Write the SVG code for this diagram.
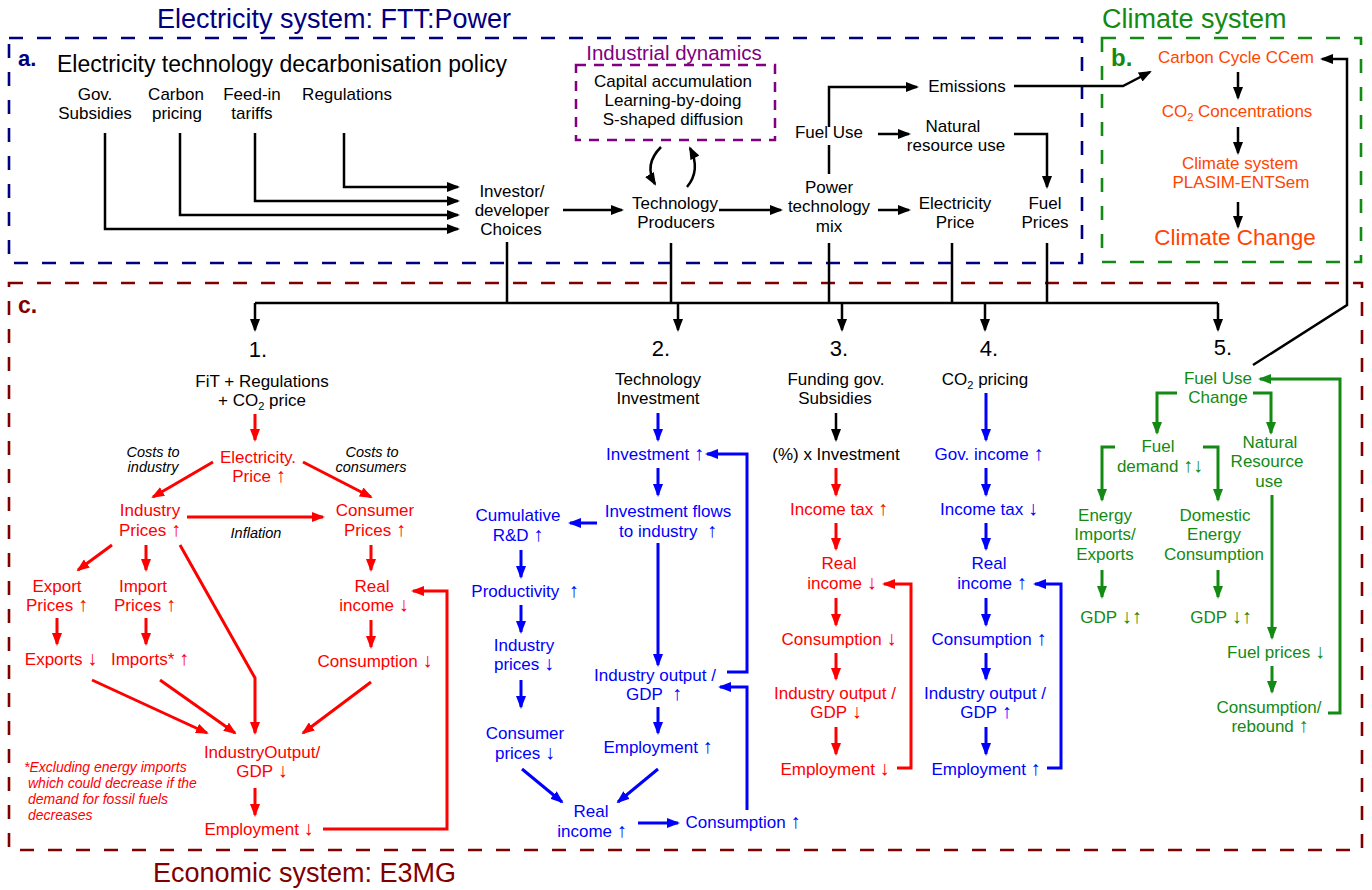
<svg xmlns="http://www.w3.org/2000/svg" width="1372" height="890" viewBox="0 0 1372 890">
<style>
text{font-family:"Liberation Sans",Arial,sans-serif;font-size:17px;text-anchor:middle}
.k{fill:#000}.r{fill:#f00}.b{fill:#00f}.g{fill:#138a13}.o{fill:#ff4500}.p{fill:#800080}
.s{text-anchor:start}.i{font-style:italic;font-size:14.5px}
.ar{font-size:20px}
.num{font-size:22px}
.box{fill:none;stroke-width:2.6;stroke-dasharray:14 14}
.lk{fill:none;stroke:#000;stroke-width:2.5;marker-end:url(#ak)}
.lk0{fill:none;stroke:#000;stroke-width:2.5}
.lr{fill:none;stroke:#f00;stroke-width:3;marker-end:url(#ar)}
.lb{fill:none;stroke:#00f;stroke-width:3;marker-end:url(#ab)}
.lg{fill:none;stroke:#138a13;stroke-width:3;marker-end:url(#ag)}
</style>
<defs>
<marker id="ak" viewBox="0 0 13 10" refX="11" refY="5" markerWidth="13" markerHeight="10" markerUnits="userSpaceOnUse" orient="auto"><path d="M0,0L13,5L0,10z" fill="#000"/></marker>
<marker id="ar" viewBox="0 0 13 10" refX="11" refY="5" markerWidth="13" markerHeight="10" markerUnits="userSpaceOnUse" orient="auto"><path d="M0,0L13,5L0,10z" fill="#f00"/></marker>
<marker id="ab" viewBox="0 0 13 10" refX="11" refY="5" markerWidth="13" markerHeight="10" markerUnits="userSpaceOnUse" orient="auto"><path d="M0,0L13,5L0,10z" fill="#00f"/></marker>
<marker id="ag" viewBox="0 0 13 10" refX="11" refY="5" markerWidth="13" markerHeight="10" markerUnits="userSpaceOnUse" orient="auto"><path d="M0,0L13,5L0,10z" fill="#138a13"/></marker>
</defs>
<rect width="1372" height="890" fill="#fff"/>

<g id="frames">
<rect x="9" y="38" width="1073" height="225" class="box" stroke="#000080"/>
<rect x="1102" y="38" width="259" height="224" class="box" stroke="#138a13"/>
<rect x="9" y="283" width="1353" height="567" class="box" stroke="#800000"/>
<rect x="576" y="65" width="199" height="75" fill="none" stroke="#800080" stroke-width="2.5" stroke-dasharray="10 8"/>
<text x="157" y="28" class="s" style="font-size:27px;fill:#000080">Electricity system: FTT:Power</text>
<text x="1102" y="28" class="s g" style="font-size:27px">Climate system</text>
<text x="153" y="882" class="s" style="font-size:27px;fill:#800000">Economic system: E3MG</text>
<text x="18" y="66" class="s" style="font-size:22px;font-weight:bold;fill:#000080">a.</text>
<text x="1111" y="66" class="s g" style="font-size:24px;font-weight:bold">b.</text>
<text x="18" y="313" class="s" style="font-size:23px;font-weight:bold;fill:#800000">c.</text>
<text x="57" y="72" class="s k" style="font-size:23px">Electricity technology decarbonisation policy</text>
</g>

<g id="connectors">
<path class="lk" d="M105,133V229H458"/>
<path class="lk" d="M180,133V215H458"/>
<path class="lk" d="M255,133V201H458"/>
<path class="lk" d="M344,133V187H458"/>
<path class="lk" d="M563,210H622"/>
<path class="lk" d="M719,210H781"/>
<path class="lk" d="M661,147C648,160 648,172 655,184"/>
<path class="lk" d="M687,187C697,175 697,162 690,148"/>
<path class="lk" d="M829,127V87H917"/>
<path class="lk0" d="M829,145V174"/>
<path class="lk" d="M878,134H909"/>
<path class="lk" d="M1014,134H1047V187"/>
<path class="lk" d="M878,210H909"/>
<path class="lk" d="M1014,86H1123L1150,72"/>
<path class="lk0" d="M507,242V303M671,243V303M829,243V303M952,243V303M1047,243V303M255,303H1218"/>
<path class="lk" d="M255,303V330"/>
<path class="lk" d="M678,303V330"/>
<path class="lk" d="M842,303V330"/>
<path class="lk" d="M985,303V330"/>
<path class="lk" d="M1218,303V330"/>
<path class="lk" d="M1238,72V98"/>
<path class="lk" d="M1238,127V153"/>
<path class="lk" d="M1238,202V227"/>
<path class="lk" d="M1253,365L1347,305V59H1322"/>

<path class="lr" d="M255,414V440"/>
<path class="lr" d="M213,462L153,497"/>
<path class="lr" d="M303,462L371,497"/>
<path class="lr" d="M187,517H323"/>
<path class="lr" d="M112,545L78,570"/>
<path class="lr" d="M146,545V570"/>
<path class="lr" d="M180,545L255,678V733"/>
<path class="lr" d="M371,545V570"/>
<path class="lr" d="M57,618V644"/>
<path class="lr" d="M146,618V644"/>
<path class="lr" d="M371,620V647"/>
<path class="lr" d="M92,680L207,733"/>
<path class="lr" d="M160,680L235,733"/>
<path class="lr" d="M371,682L303,733"/>
<path class="lr" d="M255,788V815"/>
<path class="lr" d="M323,829H447V591H413"/>

<path class="lb" d="M658,413V440"/>
<path class="lb" d="M658,468V495"/>
<path class="lb" d="M597,523H570"/>
<path class="lb" d="M521,550V577"/>
<path class="lb" d="M521,605V632"/>
<path class="lb" d="M521,680V707"/>
<path class="lb" d="M658,543V665"/>
<path class="lb" d="M727,672H747V454H707"/>
<path class="lb" d="M747,810V687H720"/>
<path class="lb" d="M658,707V733"/>
<path class="lb" d="M522,769L562,802"/>
<path class="lb" d="M658,769L618,802"/>
<path class="lb" d="M638,823H678"/>

<path class="lk" d="M836,413V440"/>
<path class="lr" d="M836,468V495"/>
<path class="lr" d="M836,523V549"/>
<path class="lr" d="M836,598V625"/>
<path class="lr" d="M836,653V679"/>
<path class="lr" d="M836,727V754"/>
<path class="lr" d="M897,768H911V584H884"/>

<path class="lb" d="M986,393V440"/>
<path class="lb" d="M986,468V495"/>
<path class="lb" d="M986,523V549"/>
<path class="lb" d="M986,598V625"/>
<path class="lb" d="M986,653V679"/>
<path class="lb" d="M986,727V754"/>
<path class="lb" d="M1047,768H1061V584H1035"/>

<path class="lg" d="M1328,713H1340V379H1260"/>
<path class="lg" d="M1177,393H1157V433"/>
<path class="lg" d="M1253,393H1271V433"/>
<path class="lg" d="M1115,447H1102V500"/>
<path class="lg" d="M1203,447H1218V500"/>
<path class="lg" d="M1102,570V597"/>
<path class="lg" d="M1218,570V597"/>
<path class="lg" d="M1272,495V638"/>
<path class="lg" d="M1272,666V692"/>
</g>

<g id="n-gov" class="k"><text x="95" y="100">Gov.</text><text x="95" y="119">Subsidies</text></g>
<g id="n-carbon"><text x="176" y="100">Carbon</text><text x="177" y="119">pricing</text></g>
<g id="n-feedin"><text x="252" y="100">Feed-in</text><text x="252" y="119">tariffs</text></g>
<g id="n-regs"><text x="347" y="100">Regulations</text></g>
<g id="n-investor"><text x="512" y="197">Investor/</text><text x="512" y="216">developer</text><text x="511" y="235">Choices</text></g>
<g id="n-industrial"><text x="674" y="60" class="p" style="font-size:20.5px">Industrial dynamics</text><text x="673" y="87">Capital accumulation</text><text x="673" y="106">Learning-by-doing</text><text x="673" y="125">S-shaped diffusion</text></g>
<g id="n-techprod"><text x="675" y="209">Technology</text><text x="676" y="228">Producers</text></g>
<g id="n-fueluse"><text x="829" y="138">Fuel Use</text></g>
<g id="n-emissions"><text x="967" y="92">Emissions</text></g>
<g id="n-natural"><text x="953" y="132">Natural</text><text x="956" y="151">resource use</text></g>
<g id="n-powermix"><text x="829" y="193">Power</text><text x="829" y="212">technology</text><text x="829" y="232">mix</text></g>
<g id="n-elecprice"><text x="955" y="209">Electricity</text><text x="955" y="228">Price</text></g>
<g id="n-fuelprices"><text x="1045" y="209">Fuel</text><text x="1045" y="228">Prices</text></g>

<g id="n-carboncycle"><text x="1236" y="63" class="o">Carbon Cycle CCem</text></g>
<g id="n-co2conc"><text x="1237" y="117" class="o">CO<tspan dy="4" style="font-size:11px">2</tspan><tspan dy="-4"> Concentrations</tspan></text></g>
<g id="n-climsys"><text x="1240" y="169" class="o">Climate system</text><text x="1241" y="188" class="o">PLASIM-ENTSem</text></g>
<g id="n-climchange"><text x="1235" y="245" class="o" style="font-size:22.5px">Climate Change</text></g>

<g id="n-c1">
<text x="258" y="357" class="num">1.</text>
<text x="262" y="387">FiT + Regulations</text>
<text x="262" y="406">+ CO<tspan dy="4" style="font-size:11px">2</tspan><tspan dy="-4"> price</tspan></text>
</g>
<g id="n-elec1"><text x="258" y="463" class="r">Electricity.</text><text x="259" y="482" class="r">Price <tspan class="ar">↑</tspan></text></g>
<g id="n-costs-ind"><text x="153" y="457" class="i">Costs to</text><text x="153" y="472" class="i">industry</text></g>
<g id="n-costs-con"><text x="372" y="457" class="i">Costs to</text><text x="371" y="472" class="i">consumers</text></g>
<g id="n-indprices"><text x="150" y="516" class="r">Industry</text><text x="150" y="536" class="r">Prices <tspan class="ar">↑</tspan></text></g>
<g id="n-conprices"><text x="375" y="516" class="r">Consumer</text><text x="375" y="536" class="r">Prices <tspan class="ar">↑</tspan></text></g>
<g id="n-inflation"><text x="256" y="538" class="i">Inflation</text></g>
<g id="n-expprices"><text x="57" y="592" class="r">Export</text><text x="57" y="611" class="r">Prices <tspan class="ar">↑</tspan></text></g>
<g id="n-impprices"><text x="143" y="592" class="r">Import</text><text x="145" y="611" class="r">Prices <tspan class="ar">↑</tspan></text></g>
<g id="n-exports"><text x="61" y="665" class="r">Exports <tspan class="ar">↓</tspan></text></g>
<g id="n-imports"><text x="150" y="665" class="r">Imports* <tspan class="ar">↑</tspan></text></g>
<g id="n-real1"><text x="372" y="592" class="r">Real</text><text x="374" y="611" class="r">income <tspan class="ar">↓</tspan></text></g>
<g id="n-cons1"><text x="375" y="667" class="r">Consumption <tspan class="ar">↓</tspan></text></g>
<g id="n-gdp1"><text x="262" y="758" class="r">IndustryOutput/</text><text x="262" y="777" class="r">GDP <tspan class="ar">↓</tspan></text></g>
<g id="n-emp1"><text x="259" y="835" class="r">Employment <tspan class="ar">↓</tspan></text></g>
<g id="n-footnote">
<text x="24" y="772" class="r s i" style="font-size:14px">*Excluding energy imports</text>
<text x="28" y="788" class="r s i" style="font-size:14px">which could decrease if the</text>
<text x="28" y="804" class="r s i" style="font-size:14px">demand for fossil fuels</text>
<text x="28" y="820" class="r s i" style="font-size:14px">decreases</text>
</g>

<g id="n-c2"><text x="661" y="356" class="num">2.</text><text x="658" y="385">Technology</text><text x="658" y="404">Investment</text></g>
<g id="n-inv2"><text x="655" y="460" class="b">Investment <tspan class="ar">↑</tspan></text></g>
<g id="n-flows"><text x="668" y="517" class="b">Investment flows</text><text x="668" y="537" class="b" xml:space="preserve">to industry  <tspan class="ar">↑</tspan></text></g>
<g id="n-rd"><text x="518" y="521" class="b">Cumulative</text><text x="518" y="541" class="b">R&amp;D <tspan class="ar">↑</tspan></text></g>
<g id="n-prod"><text x="525" y="597" class="b" xml:space="preserve">Productivity  <tspan class="ar">↑</tspan></text></g>
<g id="n-indp2"><text x="524" y="651" class="b">Industry</text><text x="524" y="670" class="b">prices <tspan class="ar">↓</tspan></text></g>
<g id="n-conp2"><text x="525" y="739" class="b">Consumer</text><text x="525" y="759" class="b">prices <tspan class="ar">↓</tspan></text></g>
<g id="n-gdp2"><text x="655" y="681" class="b">Industry output /</text><text x="654" y="700" class="b" xml:space="preserve">GDP  <tspan class="ar">↑</tspan></text></g>
<g id="n-emp2"><text x="658" y="753" class="b">Employment <tspan class="ar">↑</tspan></text></g>
<g id="n-real2"><text x="591" y="817" class="b">Real</text><text x="592" y="837" class="b">income <tspan class="ar">↑</tspan></text></g>
<g id="n-cons2"><text x="743" y="828" class="b">Consumption <tspan class="ar">↑</tspan></text></g>

<g id="n-c3"><text x="839" y="356" class="num">3.</text><text x="836" y="385">Funding gov.</text><text x="835" y="404">Subsidies</text></g>
<g id="n-pctinv"><text x="836" y="460">(%) x Investment</text></g>
<g id="n-tax3"><text x="839" y="515" class="r">Income tax <tspan class="ar">↑</tspan></text></g>
<g id="n-real3"><text x="839" y="569" class="r">Real</text><text x="842" y="589" class="r">income <tspan class="ar">↓</tspan></text></g>
<g id="n-cons3"><text x="839" y="645" class="r">Consumption <tspan class="ar">↓</tspan></text></g>
<g id="n-gdp3"><text x="835" y="699" class="r">Industry output /</text><text x="836" y="718" class="r">GDP <tspan class="ar">↓</tspan></text></g>
<g id="n-emp3"><text x="835" y="775" class="r">Employment <tspan class="ar">↓</tspan></text></g>

<g id="n-c4"><text x="989" y="356" class="num">4.</text><text x="985" y="385">CO<tspan dy="4" style="font-size:11px">2</tspan><tspan dy="-4"> pricing</tspan></text></g>
<g id="n-gov4"><text x="989" y="460" class="b">Gov. income <tspan class="ar">↑</tspan></text></g>
<g id="n-tax4"><text x="989" y="515" class="b">Income tax <tspan class="ar">↓</tspan></text></g>
<g id="n-real4"><text x="989" y="569" class="b">Real</text><text x="992" y="589" class="b">income <tspan class="ar">↑</tspan></text></g>
<g id="n-cons4"><text x="989" y="645" class="b">Consumption <tspan class="ar">↑</tspan></text></g>
<g id="n-gdp4"><text x="985" y="699" class="b">Industry output /</text><text x="986" y="718" class="b">GDP <tspan class="ar">↑</tspan></text></g>
<g id="n-emp4"><text x="986" y="775" class="b">Employment <tspan class="ar">↑</tspan></text></g>

<g id="n-c5"><text x="1223" y="355" class="num">5.</text></g>
<g id="n-fuelchange"><text x="1218" y="384" class="g">Fuel Use</text><text x="1218" y="403" class="g">Change</text></g>
<g id="n-fueldemand"><text x="1158" y="452" class="g">Fuel</text><text x="1160" y="472" class="g">demand <tspan class="ar">↑↓</tspan></text></g>
<g id="n-natres"><text x="1270" y="448" class="g">Natural</text><text x="1267" y="467" class="g">Resource</text><text x="1269" y="487" class="g">use</text></g>
<g id="n-energyie"><text x="1105" y="521" class="g">Energy</text><text x="1105" y="540" class="g">Imports/</text><text x="1105" y="560" class="g">Exports</text></g>
<g id="n-domestic"><text x="1215" y="521" class="g">Domestic</text><text x="1214" y="540" class="g">Energy</text><text x="1214" y="560" class="g">Consumption</text></g>
<g id="n-gdp5a"><text x="1111" y="623" class="g">GDP <tspan class="ar">↓↑</tspan></text></g>
<g id="n-gdp5b"><text x="1221" y="623" class="g">GDP <tspan class="ar">↓↑</tspan></text></g>
<g id="n-fuelprices5"><text x="1276" y="658" class="g">Fuel prices <tspan class="ar">↓</tspan></text></g>
<g id="n-rebound"><text x="1269" y="713" class="g">Consumption/</text><text x="1270" y="732" class="g">rebound <tspan class="ar">↑</tspan></text></g>
</svg>
